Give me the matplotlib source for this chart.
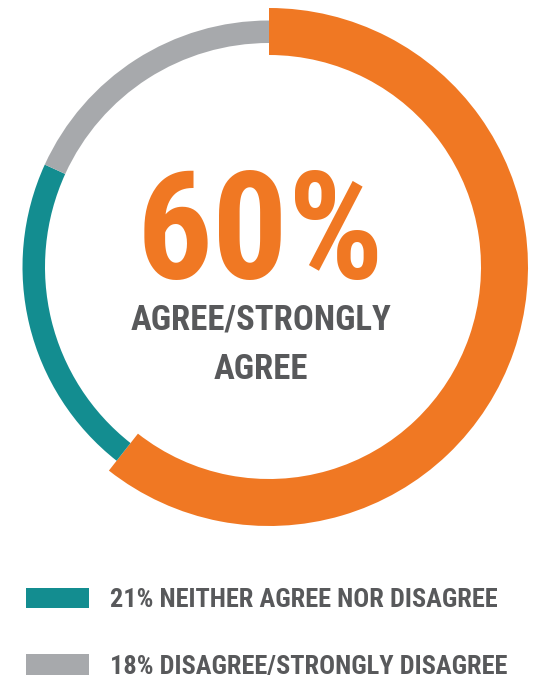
import matplotlib
matplotlib.use("Agg")
import matplotlib.pyplot as plt
from matplotlib import font_manager

# Survey answers (percent) and their colours
labels = ["AGREE/STRONGLY AGREE", "NEITHER AGREE NOR DISAGREE", "DISAGREE/STRONGLY DISAGREE"]
shares = [60, 21, 18]
colors = ["#F07823", "#138D90", "#A7A9AC"]
legend_text = ["21% NEITHER AGREE NOR DISAGREE", "18% DISAGREE/STRONGLY DISAGREE"]

# pick a narrow font if there is one, the design uses a condensed face
installed = {f.name for f in font_manager.fontManager.ttflist}
font = "DejaVu Sans"
for name in ["Roboto Condensed", "Liberation Sans Narrow", "Open Sans Condensed", "DejaVu Sans Condensed"]:
    if name in installed:
        font = name
        break
stretch = "condensed" if font == "DejaVu Sans" else "normal"

fig = plt.figure(figsize=(5.39, 6.78), dpi=100)
ax = fig.add_axes([0, 0, 1, 1])

# thin ring for all answers, then the headline share gets a thicker band
wedges, _ = ax.pie(shares, colors=colors, startangle=90, counterclock=False,
                   center=(269, 411), radius=246.5,
                   wedgeprops=dict(width=22.5, linewidth=0))
wedges[0].set_radius(259)
wedges[0].set_width(47)

ax.set_xlim(0, 539)
ax.set_ylim(0, 678)
ax.set_aspect("equal")
ax.axis("off")

dark = "#58595B"
ax.text(261, 399, f"{shares[0]}%", color=colors[0], fontsize=108, fontweight="bold",
        family=font, stretch=stretch, ha="center", va="baseline")
ax.text(261, 348, "AGREE/STRONGLY", color=dark, fontsize=25, fontweight="bold",
        family=font, stretch=stretch, ha="center", va="baseline")
ax.text(261, 299, "AGREE", color=dark, fontsize=25, fontweight="bold",
        family=font, stretch=stretch, ha="center", va="baseline")

leg = ax.legend(wedges[1:], legend_text, loc="upper left", bbox_to_anchor=(26 / 539, 1 - 588 / 678),
                bbox_transform=fig.transFigure, frameon=False,
                prop=dict(family=font, weight="bold", size=19, stretch=stretch),
                handlelength=2.4, handleheight=0.8, handletextpad=0.8,
                labelspacing=1.6, borderpad=0, borderaxespad=0)
for t in leg.get_texts():
    t.set_color(dark)

fig.savefig("out.png", dpi=100)
